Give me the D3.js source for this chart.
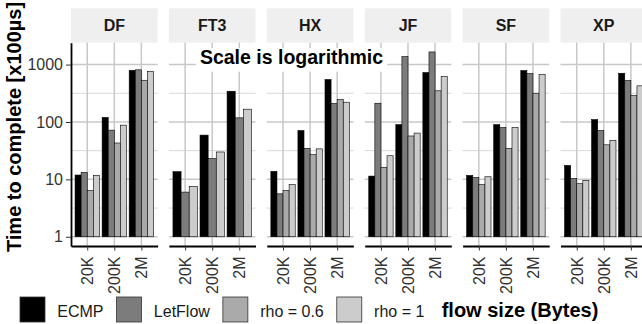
<!DOCTYPE html>
<html>
<head>
<meta charset="utf-8">
<script src="https://cdn.jsdelivr.net/npm/d3@7"></script>
<style>
  html, body { margin: 0; padding: 0; background: #fff; }
  svg { display: block; font-family: "Liberation Sans", Arial, Helvetica, sans-serif; }
</style>
</head>
<body>
<svg id="chart" width="642" height="324"></svg>
<script>
// Topologies (facets), flow sizes and load-balancing schemes
const topologies = ["DF", "FT3", "HX", "JF", "SF", "XP"];
const flowSizes = ["20K", "200K", "2M"];
const schemes = ["ECMP", "LetFlow", "rho = 0.6", "rho = 1"];
const schemeFills = ["#000000", "#7c7c7c", "#aaaaaa", "#cccccc"];

// Time to complete [x100µs], one row per topology, one value per flow size
const ecmpTimes = [
  [11.9, 120, 795],
  [13.6, 59, 343],
  [13.8, 71, 548],
  [11.4, 90, 726],
  [11.7, 90, 787],
  [17.5, 110, 706]
];
const letflowTimes = [
  [13.2, 72, 810],
  [6.0, 23, 118],
  [5.6, 34.6, 210],
  [212, 1377, 1660],
  [10.8, 80, 697],
  [10.4, 71, 527]
];
const rho06Times = [
  [6.4, 43, 533],
  [null, null, null],
  [6.4, 27, 246],
  [16.2, 57, 349],
  [8.1, 34.6, 317],
  [8.4, 40, 289]
];
const rho1Times = [
  [11.7, 88, 755],
  [7.5, 30, 167],
  [8.1, 34, 221],
  [25.8, 64, 618],
  [11.1, 80, 670],
  [9.6, 48, 426]
];
const yTickValues = [1, 10, 100, 1000];

const seriesTimes = [ecmpTimes, letflowTimes, rho06Times, rho1Times];

// Long-format records
const records = [];
topologies.forEach((t, ti) => {
  flowSizes.forEach((s, si) => {
    schemes.forEach((m, mi) => {
      const v = seriesTimes[mi][ti][si];
      if (v != null) records.push({ topo: t, size: s, scheme: m, value: v });
    });
  });
});

const svg = d3.select("#chart");
svg.append("rect").attr("width", 642).attr("height", 324).attr("fill", "#fff");

const stripTop = 8.3, panelTop = 42.7, panelBottom = 246;

const fx = d3.scaleBand().domain(topologies).range([71, 647.1])
  .paddingInner(0.1154).paddingOuter(0);
const bw = fx.bandwidth();

// Log y scale with 5% expansion of the data range (bars start at 1)
const maxV = d3.max(records, d => d.value);
const lo = 0, hi = Math.log10(maxV), ex = 0.05 * (hi - lo);
const y = d3.scaleLog().domain([Math.pow(10, lo - ex), Math.pow(10, hi + ex)])
  .range([panelBottom, panelTop]);
const [dMin, dMax] = y.domain();
const minorTicks = [-0.5, 0.5, 1.5, 2.5, 3.5].map(e => Math.pow(10, e))
  .filter(v => v >= dMin && v <= dMax);

const xp = d3.scalePoint().domain(flowSizes).range([0, bw]).padding(0.6);
const step = xp.step();

topologies.forEach((t, ti) => {
  const g = svg.append("g").attr("transform", `translate(${fx(t)},0)`);

  // strip
  g.append("rect").attr("x", 0).attr("y", stripTop).attr("width", bw)
    .attr("height", panelTop - stripTop).attr("fill", "#efefef");
  g.append("text").attr("x", bw / 2).attr("y", (stripTop + panelTop) / 2)
    .attr("text-anchor", "middle").attr("dominant-baseline", "central")
    .attr("font-size", 16).attr("font-weight", "bold").attr("fill", "#1a1a1a")
    .text(t);

  // grid
  g.selectAll(".minor").data(minorTicks).join("line")
    .attr("x1", 0).attr("x2", bw).attr("y1", d => y(d)).attr("y2", d => y(d))
    .attr("stroke", "#d4d4d4").attr("stroke-width", 0.9);
  g.selectAll(".major").data(yTickValues).join("line")
    .attr("x1", 0).attr("x2", bw).attr("y1", d => y(d)).attr("y2", d => y(d))
    .attr("stroke", "#c8c8c8").attr("stroke-width", 1.5);
  g.selectAll(".vgrid").data(flowSizes).join("line")
    .attr("x1", d => xp(d)).attr("x2", d => xp(d)).attr("y1", panelTop).attr("y2", panelBottom)
    .attr("stroke", "#c8c8c8").attr("stroke-width", 1.5);

  // bars, dodged among the schemes present in this panel
  const rows = records.filter(r => r.topo === t);
  const present = schemes.filter(m => rows.some(r => r.scheme === m));
  const dodge = d3.scaleBand().domain(present).range([-0.45 * step, 0.45 * step]).padding(0);
  g.selectAll(".bar").data(rows).join("rect")
    .attr("x", d => xp(d.size) + dodge(d.scheme))
    .attr("width", dodge.bandwidth())
    .attr("y", d => y(d.value))
    .attr("height", d => y(1) - y(d.value))
    .attr("fill", d => schemeFills[schemes.indexOf(d.scheme)])
    .attr("stroke", "#000").attr("stroke-width", 0.6);

  // x axis
  const ax = g.append("g").attr("transform", `translate(0,${panelBottom})`)
    .call(d3.axisBottom(xp).tickSize(4.5).tickSizeOuter(0).tickPadding(6));
  ax.select(".domain").attr("stroke", "#000").attr("stroke-width", 1.8);
  ax.selectAll(".tick line").attr("stroke", "#333").attr("stroke-width", 1);
  ax.selectAll(".tick text")
    .attr("font-size", 16).attr("fill", "#333").attr("font-family", null)
    .attr("text-anchor", "end").attr("dy", null)
    .attr("transform", "rotate(-90)")
    .attr("x", -10.5).attr("y", 0).attr("dominant-baseline", "central");
});

// y axis on the first panel
const ay = svg.append("g").attr("transform", `translate(${fx(topologies[0])},0)`)
  .call(d3.axisLeft(y).tickValues(yTickValues).tickFormat(d3.format("d"))
    .tickSize(5).tickSizeOuter(0).tickPadding(3));
ay.select(".domain").attr("stroke", "#000").attr("stroke-width", 1.8);
ay.selectAll(".tick line").attr("stroke", "#333").attr("stroke-width", 1);
ay.selectAll(".tick text").attr("font-size", 16).attr("fill", "#333").attr("font-family", null);

// axis titles
svg.append("text")
  .attr("transform", "translate(21,127) rotate(-90)")
  .attr("text-anchor", "middle").attr("font-size", 20).attr("font-weight", "bold")
  .text("Time to complete [x100µs]");

svg.append("text").attr("x", 441.7).attr("y", 317)
  .attr("font-size", 20).attr("font-weight", "bold")
  .text("flow size (Bytes)");

// legend
const legend = svg.append("g");
let lx = 20;
schemes.forEach((m, i) => {
  legend.append("rect").attr("x", lx).attr("y", 297).attr("width", 25).attr("height", 25)
    .attr("fill", schemeFills[i]).attr("stroke", "#333").attr("stroke-width", 0.8);
  const tx = legend.append("text").attr("x", lx + 37.3).attr("y", 316.7)
    .attr("font-size", 16).attr("fill", "#1a1a1a").text(m);
  lx += 37.3 + tx.node().getComputedTextLength() + 13;
});

// annotation label with white background
const note = svg.append("g");
const noteText = note.append("text").attr("x", 291.5).attr("y", 64)
  .attr("text-anchor", "middle").attr("font-size", 19.5).attr("font-weight", "bold")
  .text("Scale is logarithmic");
const bb = noteText.node().getBBox();
note.insert("rect", "text").attr("x", bb.x - 4).attr("y", 48)
  .attr("width", bb.width + 8).attr("height", 23.7).attr("fill", "#fff");
</script>
</body>
</html>
